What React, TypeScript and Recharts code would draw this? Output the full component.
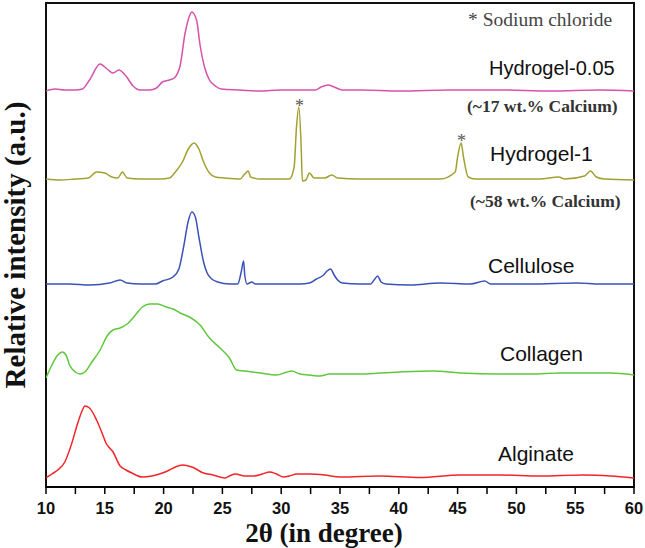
import { LineChart, Line, XAxis, YAxis, ReferenceArea } from 'recharts';

// 2θ positions and relative intensities
const hydrogel005Theta = [10.0, 10.8, 11.6, 12.5, 13.1, 13.7, 14.6, 15.2, 15.7, 16.2, 16.8, 17.4, 18.0, 18.8, 19.4, 19.9, 20.5, 20.9, 21.4, 21.8, 22.2, 22.4, 22.8, 23.1, 23.5, 23.9, 24.4, 24.9, 26.5, 28.2, 29.9, 31.6, 32.9, 33.4, 34.0, 34.5, 35.2, 36.7, 40.1, 44.4, 48.6, 52.9, 57.1, 60.0];
const hydrogel005Values = [396, 398, 397, 397, 398, 407, 423, 418, 414, 417, 411, 401, 397, 397, 399, 405, 407, 409, 421, 452, 471, 475, 467, 442, 419, 407, 401, 398, 397, 396, 397, 397, 397, 400, 402, 400, 397, 397, 396, 397, 397, 396, 397, 396];

const hydrogel1Theta = [10.0, 11.2, 12.5, 13.6, 14.3, 15.0, 15.6, 16.1, 16.5, 16.9, 18.0, 19.7, 20.5, 21.0, 21.6, 22.1, 22.6, 23.0, 23.4, 23.9, 24.4, 25.2, 26.5, 26.9, 27.2, 27.4, 28.2, 29.5, 30.7, 31.1, 31.3, 31.5, 31.7, 31.8, 32.1, 32.4, 32.8, 33.7, 34.3, 34.8, 36.7, 40.1, 43.5, 44.8, 45.0, 45.3, 45.5, 45.9, 46.5, 49.5, 52.0, 53.6, 54.1, 55.8, 56.3, 56.8, 57.5, 60.0];
const hydrogel1Values = [308, 307, 308, 309, 315, 314, 310, 309, 315, 309, 308, 308, 309, 315, 325, 338, 344, 338, 325, 314, 310, 309, 308, 313, 316, 310, 308, 308, 308, 320, 360, 380, 340, 306, 307, 314, 309, 309, 312, 309, 308, 308, 308, 315, 330, 344, 330, 310, 308, 308, 308, 310, 308, 311, 316, 310, 308, 307];

const celluloseTheta = [10.0, 12.0, 13.7, 15.4, 16.3, 16.9, 18.0, 19.3, 19.9, 20.8, 21.3, 21.7, 22.1, 22.4, 22.7, 23.0, 23.4, 23.7, 24.1, 24.6, 25.6, 26.3, 26.6, 26.8, 26.9, 27.1, 27.5, 27.8, 29.9, 31.6, 32.4, 33.0, 33.6, 33.9, 34.2, 34.5, 34.8, 35.2, 36.7, 37.6, 37.9, 38.2, 38.5, 38.9, 41.0, 43.5, 46.1, 47.3, 47.8, 51.2, 55.2, 57.1, 60.0];
const celluloseValues = [203, 203, 202, 204, 207, 204, 203, 203, 206, 210, 218, 240, 266, 275, 270, 250, 225, 214, 208, 205, 203, 203, 215, 226, 212, 203, 205, 203, 203, 203, 204, 208, 212, 216, 218, 212, 207, 204, 203, 203, 207, 211, 205, 203, 202, 204, 203, 206, 203, 203, 204, 203, 203];

const collagenTheta = [10.0, 10.5, 11.0, 11.4, 11.7, 12.0, 12.5, 12.9, 13.3, 13.9, 14.6, 15.2, 15.7, 16.3, 16.9, 17.6, 18.2, 18.8, 19.5, 20.2, 20.8, 21.4, 22.2, 23.1, 23.9, 24.8, 25.6, 26.2, 26.9, 28.2, 29.6, 30.5, 30.9, 31.6, 32.4, 33.3, 34.1, 35.0, 36.7, 38.4, 40.1, 42.9, 45.2, 48.6, 51.2, 53.7, 58.0, 60.0];
const collagenValues = [109, 122, 132, 135, 132, 122, 115, 113, 115, 125, 137, 151, 157, 159, 163, 172, 180, 183, 183, 180, 178, 174, 170, 162, 149, 139, 129, 117, 116, 114, 112, 115, 116, 113, 112, 111, 113, 113, 113, 114, 115, 116, 114, 113, 113, 114, 114, 112];

const alginateTheta = [10.0, 10.5, 11.0, 11.6, 12.2, 12.7, 13.1, 13.3, 13.7, 14.3, 14.8, 15.1, 15.7, 16.3, 16.8, 17.3, 18.2, 19.0, 19.9, 20.5, 21.0, 21.6, 22.4, 23.4, 24.2, 25.2, 25.6, 26.1, 26.9, 27.6, 28.4, 29.0, 29.6, 30.2, 30.7, 31.3, 32.4, 33.7, 35.0, 38.4, 41.8, 45.2, 48.6, 52.0, 55.7, 58.0, 60.0];
const alginateValues = [9, 13, 17, 25, 44, 64, 77, 81, 79, 67, 53, 44, 35, 21, 17, 14, 10, 11, 14, 17, 20, 22, 20, 14, 12, 9, 11, 13, 11, 11, 13, 15, 13, 10, 11, 13, 13, 12, 10, 11, 9.5, 12, 12, 11, 12, 11, 9];

const xTicks = [10, 12.5, 15, 17.5, 20, 22.5, 25, 27.5, 30, 32.5, 35, 37.5, 40, 42.5, 45, 47.5, 50, 52.5, 55, 57.5, 60];

const toPoints = (theta: number[], values: number[]) =>
  theta.map((t, i) => ({ theta: t, value: values[i] }));

const series = [
  { name: 'Hydrogel-0.05', data: toPoints(hydrogel005Theta, hydrogel005Values), color: '#d652ab' },
  { name: 'Hydrogel-1', data: toPoints(hydrogel1Theta, hydrogel1Values), color: '#a3a030' },
  { name: 'Cellulose', data: toPoints(celluloseTheta, celluloseValues), color: '#3a52b8' },
  { name: 'Collagen', data: toPoints(collagenTheta, collagenValues), color: '#5ec83c' },
  { name: 'Alginate', data: toPoints(alginateTheta, alginateValues), color: '#f0262a' },
];

const sans = 'Arial, "Liberation Sans", sans-serif';
const serif = '"Times New Roman", "Liberation Serif", serif';

const labels = [
  { text: '* Sodium chloride', x: 468, y: 20, font: serif, size: 19.5, weight: 400, color: '#444' },
  { text: 'Hydrogel-0.05', x: 489, y: 68, font: sans, size: 20, weight: 400, color: '#111' },
  { text: '(~17 wt.% Calcium)', x: 467, y: 107, font: serif, size: 17.5, weight: 700, color: '#333' },
  { text: 'Hydrogel-1', x: 490, y: 153, font: sans, size: 21, weight: 400, color: '#111' },
  { text: '(~58 wt.% Calcium)', x: 470, y: 202, font: serif, size: 17.5, weight: 700, color: '#333' },
  { text: 'Cellulose', x: 488, y: 265, font: sans, size: 21, weight: 400, color: '#111' },
  { text: 'Collagen', x: 500, y: 353, font: sans, size: 21, weight: 400, color: '#111' },
  { text: 'Alginate', x: 498, y: 453, font: sans, size: 21, weight: 400, color: '#111' },
  { text: '*', x: 295, y: 106, font: serif, size: 18, weight: 400, color: '#555' },
  { text: '*', x: 457, y: 141, font: serif, size: 18, weight: 400, color: '#555' },
];

export default function App() {
  return (
    <div style={{ position: 'absolute', left: 0, top: 0, width: 645, height: 548, background: '#fff', overflow: 'hidden' }}>
      <LineChart
        width={645}
        height={548}
        margin={{ top: 3, right: 11, left: 46, bottom: 31 }}
      >
        <XAxis
          dataKey="theta"
          type="number"
          domain={[10, 60]}
          ticks={xTicks}
          allowDataOverflow
          stroke="#000"
          strokeWidth={1.5}
          tickSize={7}
          tickMargin={8}
          height={30}
          tickFormatter={(v: number) => (v % 5 === 0 ? String(v) : '')}
          tick={{ fill: '#111', fontSize: 16.5, fontWeight: 700, fontFamily: sans }}
        />
        <YAxis type="number" domain={[0, 484]} width={0} tick={false} tickLine={false} axisLine={false} />
        {/* plot frame */}
        <ReferenceArea
          x1={10}
          x2={60}
          y1={0}
          y2={484}
          fill="none"
          fillOpacity={0}
          stroke="#111"
          strokeWidth={2}
          strokeOpacity={1}
          ifOverflow="visible"
        />
        {series.map((s) => (
          <Line
            key={s.name}
            data={s.data}
            dataKey="value"
            name={s.name}
            type="monotone"
            stroke={s.color}
            strokeWidth={1.5}
            dot={false}
            activeDot={false}
            isAnimationActive={false}
          />
        ))}
      </LineChart>

      {labels.map((l, i) => (
        <div
          key={i}
          style={{
            position: 'absolute',
            left: l.x,
            top: l.y,
            transform: 'translateY(-50%)',
            fontFamily: l.font,
            fontSize: l.size,
            fontWeight: l.weight,
            color: l.color,
            whiteSpace: 'nowrap',
            lineHeight: 1,
          }}
        >
          {l.text}
        </div>
      ))}

      <div
        style={{
          position: 'absolute',
          left: 15,
          top: 245,
          transform: 'translate(-50%, -50%) rotate(-90deg)',
          fontFamily: serif,
          fontWeight: 700,
          fontSize: 29,
          color: '#111',
          whiteSpace: 'nowrap',
          lineHeight: 1,
        }}
      >
        Relative intensity (a.u.)
      </div>
      <div
        style={{
          position: 'absolute',
          left: 324,
          top: 533,
          transform: 'translate(-50%, -50%)',
          fontFamily: serif,
          fontWeight: 700,
          fontSize: 27,
          color: '#111',
          whiteSpace: 'nowrap',
          lineHeight: 1,
        }}
      >
        2θ (in degree)
      </div>
    </div>
  );
}
